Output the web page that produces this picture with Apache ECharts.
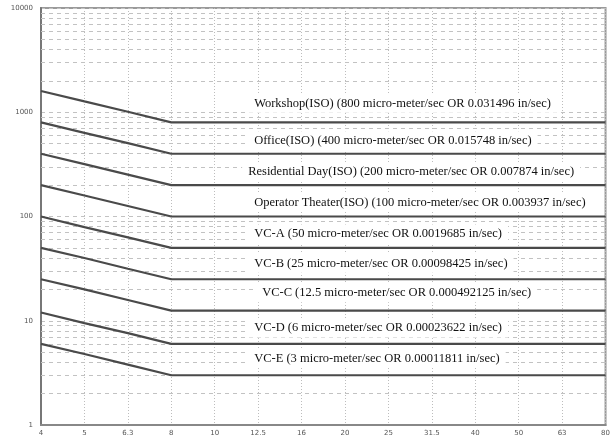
<!DOCTYPE html>
<html><head><meta charset="utf-8">
<script src="https://cdn.jsdelivr.net/npm/echarts@6/dist/echarts.min.js"></script>
<style>html,body{margin:0;padding:0;background:#fff}#c{width:613px;height:442px}</style>
</head><body><div id="c"></div>
<script>
const categories = ['4','5','6.3','8','10','12.5','16','20','25','31.5','40','50','63','80'];
const yTicks = [1, 10, 100, 1000, 10000];
const minorGrid = [2,3,4,5,6,7,8,9,20,30,40,50,60,70,80,90,200,300,400,500,600,700,800,900,2000,3000,4000,5000,6000,7000,8000,9000];

const workshop    = [1600, 1270, 1010, 800, 800, 800, 800, 800, 800, 800, 800, 800, 800, 800];
const office      = [800, 635, 505, 400, 400, 400, 400, 400, 400, 400, 400, 400, 400, 400];
const residential = [400, 318, 252, 200, 200, 200, 200, 200, 200, 200, 200, 200, 200, 200];
const operator    = [200, 159, 126, 100, 100, 100, 100, 100, 100, 100, 100, 100, 100, 100];
const vcA         = [100, 79, 63, 50, 50, 50, 50, 50, 50, 50, 50, 50, 50, 50];
const vcB         = [50, 40, 31.5, 25, 25, 25, 25, 25, 25, 25, 25, 25, 25, 25];
const vcC         = [25, 20, 15.8, 12.5, 12.5, 12.5, 12.5, 12.5, 12.5, 12.5, 12.5, 12.5, 12.5, 12.5];
const vcD         = [12, 9.5, 7.6, 6, 6, 6, 6, 6, 6, 6, 6, 6, 6, 6];
const vcE         = [6, 4.8, 3.8, 3, 3, 3, 3, 3, 3, 3, 3, 3, 3, 3];

const seriesData = [workshop, office, residential, operator, vcA, vcB, vcC, vcD, vcE];
const labels = [
  'Workshop(ISO) (800 micro-meter/sec OR 0.031496 in/sec)',
  'Office(ISO) (400 micro-meter/sec OR 0.015748 in/sec)',
  'Residential Day(ISO) (200 micro-meter/sec OR 0.007874 in/sec)',
  'Operator Theater(ISO) (100 micro-meter/sec OR 0.003937 in/sec)',
  'VC-A (50 micro-meter/sec OR 0.0019685 in/sec)',
  'VC-B (25 micro-meter/sec OR 0.00098425 in/sec)',
  'VC-C (12.5 micro-meter/sec OR 0.000492125 in/sec)',
  'VC-D (6 micro-meter/sec OR 0.00023622 in/sec)',
  'VC-E (3 micro-meter/sec OR 0.00011811 in/sec)'
];
// label layout (pixel offsets from the point at category '12.5' on the flat part)
const labelLayout = [[-10,-19],[-10,-13],[-16,-13],[-10,-14],[-10,-14],[-10,-16],[-2,-18],[-10,-16],[-10,-17]];

const chart = echarts.init(document.getElementById('c'));
const series = seriesData.map((d, i) => ({
  type: 'line',
  data: d,
  showSymbol: false,
  symbol: 'none',
  silent: true,
  z: 10,
  lineStyle: { color: '#4a4a4a', width: 2.2 },
  markPoint: {
    symbol: 'circle', symbolSize: 0, silent: true, z: 12,
    data: [{ coord: ['12.5', d[d.length - 1]] }],
    label: {
      show: true, position: 'inside', formatter: labels[i],
      align: 'left', verticalAlign: 'middle',
      offset: labelLayout[i],
      fontFamily: 'Liberation Serif', fontSize: 12.5, color: '#111',
      backgroundColor: '#fff', padding: [3, 6, 3, 6]
    }
  }
}));
series.push({
  type: 'line', data: [], silent: true, z: 1,
  markLine: {
    silent: true, symbol: 'none', label: { show: false }, z: 1,
    lineStyle: { color: '#c2c2c2', type: [4, 4], width: 1 },
    data: minorGrid.map(v => ({ yAxis: v }))
  }
});

chart.setOption({
  animation: false,
  grid: { left: 41, right: 2, top: 8, bottom: 17, show: true, borderColor: '#9a9a9a', borderWidth: 2 },
  xAxis: {
    type: 'category', data: categories, boundaryGap: false,
    axisLine: { lineStyle: { color: '#888', width: 2 } },
    axisTick: { show: false },
    axisLabel: { fontSize: 7, color: '#555', margin: 5, fontFamily: 'DejaVu Sans' },
    splitLine: { show: true, lineStyle: { color: '#bdbdbd', type: [1, 2], width: 1 } }
  },
  yAxis: {
    type: 'log', logBase: 10, min: 1, max: 10000,
    axisLine: { show: true, lineStyle: { color: '#777', width: 2 } },
    axisTick: { show: false },
    axisLabel: { fontSize: 7, color: '#555', margin: 8, fontFamily: 'DejaVu Sans',
      formatter: v => yTicks.includes(Math.round(v)) ? String(Math.round(v)) : '' },
    splitLine: { show: true, lineStyle: { color: '#c2c2c2', type: [4, 4], width: 1 } }
  },
  series: series
});
</script></body></html>
